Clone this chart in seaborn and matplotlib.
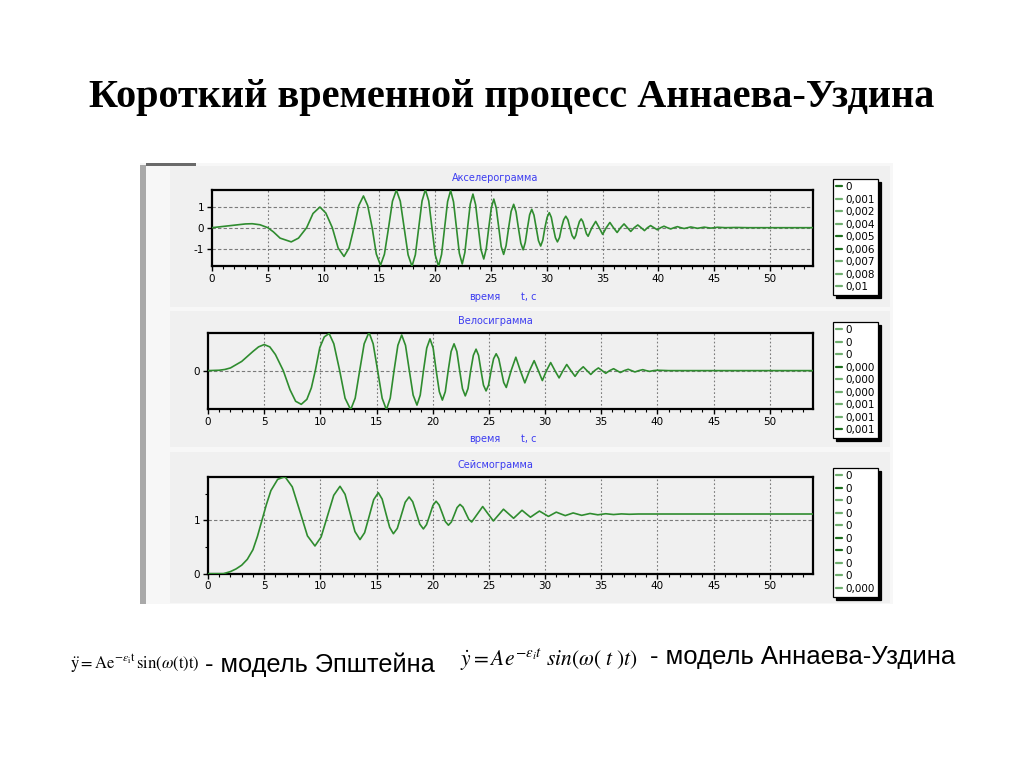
import numpy as np
import pandas as pd
import matplotlib
matplotlib.use("Agg")
import matplotlib.pyplot as plt
from matplotlib.patches import Rectangle
from matplotlib.lines import Line2D
import seaborn as sns

# ---------------- data ----------------
TITLE = "Короткий временной процесс Аннаева-Уздина"
PANEL_TITLES = ["Акселерограмма", "Велосиграмма", "Сейсмограмма"]
XLABEL_WORD = "время"
XLABEL_UNIT = "t, с"
X_TICKS = [0, 5, 10, 15, 20, 25, 30, 35, 40, 45, 50]
ACC_YTICKS = [-1, 0, 1]
VEL_YTICKS = [0]
SEIS_YTICKS = [0, 1]

acc_t = [0, 1.0, 2.0, 3.0, 3.6, 4.3, 5.0, 5.5, 6.1, 7.1, 7.75, 8.48, 9.05, 9.67,
         10.2, 10.78, 11.3, 11.83, 12.28, 12.72, 13.15, 13.57, 13.95, 14.35, 14.72, 15.1,
         15.45, 15.82, 16.17, 16.52, 16.87, 17.22, 17.57, 17.92, 18.22, 18.52, 18.82, 19.12,
         19.42, 19.71, 20.0, 20.3, 20.57, 20.84, 21.11, 21.38, 21.64, 21.9, 22.16, 22.42,
         22.66, 22.9, 23.14, 23.38, 23.62, 23.86, 24.1, 24.35, 24.57, 24.8, 25.03, 25.25,
         25.47, 25.69, 25.91, 26.13, 26.35, 26.58, 26.8, 27.03, 27.24, 27.45, 27.67, 27.88,
         28.07, 28.27, 28.46, 28.65, 28.85, 29.05, 29.25, 29.45, 29.64, 29.83, 30.03, 30.22,
         30.4, 30.58, 30.77, 30.95, 31.14, 31.32, 31.51, 31.7, 31.89, 32.07, 32.26, 32.45,
         32.6, 32.76, 32.92, 33.08, 33.23, 33.39, 33.55, 33.7, 34.04, 34.38, 34.69, 35.0,
         35.33, 35.65, 35.97, 36.3, 36.61, 36.92, 37.22, 37.52, 37.83, 38.15, 38.45, 38.75,
         39.02, 39.3, 39.6, 39.9, 40.2, 40.5, 40.8, 41.1, 41.4, 41.7, 42.0, 42.3, 42.6, 42.9,
         43.2, 43.5, 43.8, 44.1, 44.4, 44.7, 45.0, 45.3, 46.0, 47.0, 48.0, 54.0]
acc_y = [0, 0.06, 0.12, 0.18, 0.19, 0.14, 0.0, -0.2, -0.5, -0.68, -0.5, 0.0, 0.68, 0.99,
         0.7, 0.0, -0.97, -1.38, -0.97, 0.0, 1.06, 1.52, 1.06, 0.0, -1.26, -1.8,
         -1.27, 0.0, 1.27, 1.8, 1.27, 0.0, -1.3, -1.85, -1.3, 0.0, 1.28, 1.82,
         1.28, 0.0, -1.3, -1.85, -1.28, 0.0, 1.25, 1.78, 1.24, 0.0, -1.22, -1.74,
         -1.18, 0.0, 1.13, 1.61, 1.1, 0.0, -1.05, -1.5, -1.02, 0.0, 0.96, 1.37,
         0.94, 0.0, -0.9, -1.28, -0.86, 0.0, 0.78, 1.12, 0.76, 0.0, -0.74, -1.06,
         -0.7, 0.0, 0.62, 0.88, 0.6, 0.0, -0.62, -0.88, -0.6, 0.0, 0.5, 0.72,
         0.5, 0.0, -0.48, -0.68, -0.47, 0.0, 0.38, 0.55, 0.38, 0.0, -0.37, -0.53,
         -0.37, 0.0, 0.29, 0.42, 0.29, 0.0, -0.29, -0.41, 0.0, 0.3, 0.0, -0.32,
         0.0, 0.25, 0.0, -0.23, 0.0, 0.18, 0.0, -0.18, 0.0, 0.13, 0.0, -0.14,
         0.0, 0.1, 0.0, -0.1, 0.0, 0.07, 0.0, -0.06, 0.0, 0.05, 0.0, -0.04, 0.0, 0.035,
         0.0, -0.03, 0.0, 0.025, 0.0, -0.02, 0.0, 0.02, 0.0, 0.01, 0.0, 0.0]

vel_t = [0, 1.0, 1.5, 2.0, 3.0, 4.0, 4.5, 5.0, 5.5, 6.0, 6.7, 7.3, 7.8, 8.3, 8.8, 9.2, 9.55,
         9.95, 10.35, 10.78, 11.2, 11.72, 12.2, 12.7, 13.1, 13.5, 13.9, 14.33, 14.7, 15.1,
         15.5, 15.88, 16.22, 16.56, 16.9, 17.24, 17.58, 17.92, 18.26, 18.6, 18.89, 19.18,
         19.47, 19.76, 20.04, 20.31, 20.59, 20.86, 21.12, 21.38, 21.64, 21.9, 22.15, 22.4,
         22.65, 22.9, 23.14, 23.38, 23.62, 23.86, 24.08, 24.3, 24.52, 24.75, 24.97, 25.2,
         25.42, 25.65, 25.88, 26.1, 26.32, 26.55, 26.98, 27.4, 27.8, 28.2, 28.62, 29.03,
         29.4, 29.76, 30.13, 30.5, 30.88, 31.25, 31.6, 31.93, 32.3, 32.67, 33.03, 33.4,
         33.73, 34.07, 34.41, 34.75, 35.08, 35.4, 35.75, 36.1, 36.4, 36.7, 37.05, 37.4,
         37.7, 38.0, 38.35, 38.7, 39.0, 39.3, 39.65, 40.0, 41.0, 54.0]
vel_y = [0, 0.01, 0.03, 0.07, 0.24, 0.5, 0.62, 0.68, 0.62, 0.42, 0.0, -0.5, -0.8, -0.88, -0.75, -0.45, 0.0,
         0.6, 0.88, 0.97, 0.7, 0.0, -0.72, -1.02, -0.72, 0.0, 0.7, 1.0, 0.7, 0.0,
         -0.72, -1.02, -0.72, 0.0, 0.66, 0.93, 0.66, 0.0, -0.64, -0.9, -0.64, 0.0,
         0.59, 0.83, 0.59, 0.0, -0.55, -0.77, -0.55, 0.0, 0.5, 0.7, 0.5, 0.0,
         -0.47, -0.66, -0.47, 0.0, 0.4, 0.56, 0.4, 0.0, -0.38, -0.53, -0.38, 0.0,
         0.31, 0.44, 0.31, 0.0, -0.31, -0.44, 0.0, 0.35, 0.0, -0.32, 0.0, 0.26,
         0.0, -0.26, 0.0, 0.21, 0.0, -0.19, 0.0, 0.16, 0.0, -0.15, 0.0, 0.1,
         0.0, -0.1, 0.0, 0.07, 0.0, -0.07, 0.0, 0.05, 0.0, -0.05, 0.0, 0.035,
         0.0, -0.035, 0.0, 0.025, 0.0, -0.02, 0.0, 0.01, 0.0, 0.0]

seis_t = [0, 1.37, 2.0, 2.5, 3.0, 3.5, 4.0, 4.4, 4.8, 5.2, 5.6, 6.2, 6.85, 7.5, 8.18, 8.85,
          9.52, 10.07, 10.63, 11.19, 11.75, 12.2, 12.64, 13.08, 13.53, 13.94, 14.35, 14.75,
          15.16, 15.5, 15.83, 16.17, 16.5, 16.85, 17.2, 17.55, 17.9, 18.22, 18.54, 18.85,
          19.17, 19.45, 19.74, 20.02, 20.3, 20.57, 20.85, 21.12, 21.4, 21.66, 21.92, 22.17,
          22.43, 22.69, 22.95, 23.21, 23.47, 23.96, 24.45, 24.92, 25.4, 25.85, 26.3, 26.75,
          27.2, 27.58, 27.95, 28.32, 28.7, 29.1, 29.5, 29.9, 30.3, 30.65, 31.0, 31.4, 31.8,
          32.15, 32.5, 32.88, 33.26, 33.63, 34.0, 34.7, 35.4, 36.1, 36.8, 37.5, 38.3, 54.0]
seis_y = [0, 0, 0.04, 0.09, 0.16, 0.27, 0.45, 0.7, 1.0, 1.3, 1.56, 1.77, 1.82, 1.63, 1.17, 0.71,
          0.52, 0.69, 1.08, 1.47, 1.64, 1.49, 1.14, 0.79, 0.64, 0.77, 1.08, 1.39,
          1.52, 1.4, 1.135, 0.87, 0.75, 0.85, 1.095, 1.34, 1.44, 1.35, 1.14, 0.93,
          0.84, 0.92, 1.1, 1.28, 1.36, 1.29, 1.135, 0.98, 0.91, 0.97, 1.105, 1.24,
          1.3, 1.25, 1.135, 1.02, 0.97, 1.115, 1.26, 1.125, 0.99, 1.1, 1.21, 1.125,
          1.04, 1.115, 1.19, 1.125, 1.06, 1.118, 1.175, 1.125, 1.075, 1.115, 1.155, 1.122, 1.09,
          1.115, 1.14, 1.118, 1.095, 1.112, 1.13, 1.105, 1.125, 1.11, 1.122, 1.115, 1.12, 1.12]

legend1_labels = ["0", "0,001", "0,002", "0,004", "0,005", "0,006", "0,007", "0,008", "0,01"]
legend2_labels = ["0", "0", "0", "0,000", "0,000", "0,000", "0,001", "0,001", "0,001"]
legend3_labels = ["0", "0", "0", "0", "0", "0", "0", "0", "0", "0,000"]

# ---------------- style ----------------
legend1_shade = ["d", "l", "l", "l", "d", "d", "l", "l", "l"]
legend2_shade = ["l", "l", "l", "d", "l", "l", "l", "l", "d"]
legend3_shade = ["l", "d", "l", "l", "l", "d", "d", "l", "l", "l"]
SHADE = {"d": "#1f6e1f", "l": "#6fae6f"}
GREEN = "#2f8c2f"
BLUE = "#3c3cf0"
PANEL_BG = "#f0f0f0"
W, H = 1024, 767

sns.set_theme(style="white")
plt.rcParams["font.family"] = ["DejaVu Sans"]
plt.rcParams["mathtext.fontset"] = "stix"
plt.rcParams["axes.unicode_minus"] = False
plt.rcParams["text.color"] = "black"
plt.rcParams["xtick.color"] = "black"
plt.rcParams["ytick.color"] = "black"

fig = plt.figure(figsize=(W / 100, H / 100), dpi=100)
fig.patch.set_facecolor("white")


def prect(x0, y0, x1, y1, color, z=-5):
    fig.add_artist(Rectangle((x0 / W, 1 - y1 / H), (x1 - x0) / W, (y1 - y0) / H,
                             transform=fig.transFigure, facecolor=color,
                             edgecolor="none", zorder=z))


# screenshot decoration
prect(140, 163, 893, 605, "#f7f7f7")
prect(140, 165, 146, 605, "#a9a9a9")
prect(146, 163, 196, 166, "#6a6a6a")
prect(170, 166, 890, 307, PANEL_BG)
prect(170, 311, 890, 447, PANEL_BG)
prect(170, 452, 890, 603, PANEL_BG)

# slide title
fig.text(512 / W, 1 - 97 / H, TITLE, ha="center", va="center", color="black",
         fontsize=29, fontweight="bold", family=["Liberation Serif", "DejaVu Serif"])

panels = [
    dict(rect=(212, 189.7, 813, 266.3), t=acc_t, y=acc_y, ylim=(-1.85, 1.82),
         yticks=ACC_YTICKS, yminor=[], title_y=178, xlabel_y=297,
         leg=(legend1_labels, legend1_shade), leg_y=179),
    dict(rect=(208, 332.7, 813, 409.3), t=vel_t, y=vel_y, ylim=(-1.01, 0.99),
         yticks=VEL_YTICKS, yminor=[], title_y=321, xlabel_y=439,
         leg=(legend2_labels, legend2_shade), leg_y=322),
    dict(rect=(208, 476.7, 813, 573.7), t=seis_t, y=seis_y, ylim=(0, 1.82),
         yticks=SEIS_YTICKS, yminor=[0.5, 1.5], title_y=465, xlabel_y=None,
         leg=(legend3_labels, legend3_shade), leg_y=468),
]

for i, p in enumerate(panels):
    x0, y0, x1, y1 = p["rect"]
    ax = fig.add_axes([x0 / W, 1 - y1 / H, (x1 - x0) / W, (y1 - y0) / H])
    ax.set_facecolor(PANEL_BG)
    df = pd.DataFrame({"t": p["t"], "v": p["y"]})
    sns.lineplot(data=df, x="t", y="v", ax=ax, color=GREEN, lw=1.2,
                 sort=False, estimator=None, zorder=3)
    ax.set_xlim(0, 53.85)
    ax.set_ylim(*p["ylim"])
    ax.set_xticks(X_TICKS)
    ax.set_xticks(np.arange(0, 54, 1), minor=True)
    ax.set_yticks(p["yticks"])
    ax.set_yticks(p["yminor"], minor=True)
    ax.set_xlabel("")
    ax.set_ylabel("")
    ax.tick_params(axis="both", which="major", direction="out", length=3.5, width=1,
                   labelsize=7.5, pad=2, colors="black", bottom=True, left=True)
    ax.tick_params(axis="both", which="minor", direction="out", length=2.5, width=0.8,
                   bottom=True, left=True)
    ax.grid(False)
    for xv in X_TICKS[1:]:
        ax.axvline(xv, color="#7a7a7a", lw=0.8, ls=(0, (1.5, 2.0)), zorder=1)
    for yv in p["yticks"]:
        ax.axhline(yv, color="#7a7a7a", lw=0.8, ls=(0, (3.0, 2.0)), zorder=1)
    for s in ax.spines.values():
        s.set_visible(True)
        s.set_color("black")
        s.set_linewidth(1.6)

    fig.text(495 / W, 1 - p["title_y"] / H, PANEL_TITLES[i], ha="center", va="center",
             fontsize=7, color=BLUE)
    if p["xlabel_y"] is not None:
        fig.text(485 / W, 1 - p["xlabel_y"] / H, XLABEL_WORD, ha="center", va="center",
                 fontsize=7, color=BLUE)
        fig.text(529 / W, 1 - p["xlabel_y"] / H, XLABEL_UNIT, ha="center", va="center",
                 fontsize=7, color=BLUE)

    labels, shades = p["leg"]
    handles = [Line2D([0], [0], color=SHADE[s], lw=1.6) for s in shades]
    leg = ax.legend(handles, labels, loc="upper left",
                    bbox_to_anchor=(833 / W, 1 - p["leg_y"] / H),
                    bbox_transform=fig.transFigure, fontsize=7.5,
                    handlelength=0.55, handletextpad=0.35, labelspacing=0.24,
                    borderpad=0.3, borderaxespad=0, frameon=True, fancybox=False,
                    shadow={"color": "black", "alpha": 1.0})
    leg.get_frame().set_edgecolor("black")
    leg.get_frame().set_linewidth(0.9)
    leg.get_frame().set_facecolor("white")
    leg.get_frame().set_alpha(1.0)
    for txt in leg.get_texts():
        txt.set_color("black")

# cover below screenshot (legend 3 is cut by the screenshot edge)
fig.add_artist(Rectangle((130 / W, 0), 800 / W, 1 - 604 / H, transform=fig.transFigure,
                         facecolor="white", edgecolor="none", zorder=10))

# formulas
fig.text(70 / W, 1 - 664 / H,
         r"$\ddot{\mathrm{y}}=\mathrm{Ae}^{-\varepsilon_{\mathrm{i}}\mathrm{t}}\,\mathrm{sin}\left(\omega(\mathrm{t})\mathrm{t}\right)$",
         ha="left", va="center", fontsize=12, zorder=11, color="black")
fig.text(205 / W, 1 - 665 / H, "- модель Эпштейна", ha="left", va="center", color="black",
         fontsize=18.3, family=["Liberation Sans", "DejaVu Sans"], zorder=11)
fig.text(460 / W, 1 - 660 / H,
         r"$\dot{y}=Ae^{-\varepsilon_i t}\ sin\left(\omega(\ t\ )t\right)$",
         ha="left", va="center", fontsize=15.5, zorder=11, color="black")
fig.text(650 / W, 1 - 657 / H, "- модель Аннаева-Уздина", ha="left", va="center", color="black",
         fontsize=18.5, family=["Liberation Sans", "DejaVu Sans"], zorder=11)

fig.savefig("out.png", dpi=100, facecolor="white")
